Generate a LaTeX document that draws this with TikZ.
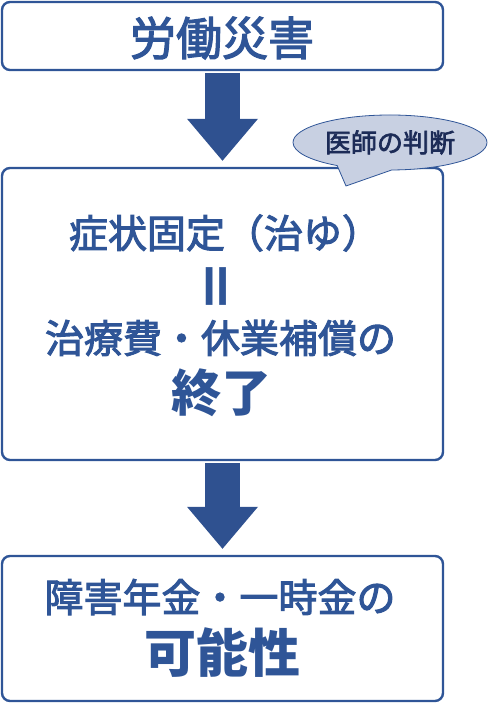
\documentclass[tikz,border=0pt]{standalone}
\usepackage{fontspec}
\setmainfont{Noto Sans CJK JP}
\newfontfamily\jpmid{Noto Sans CJK JP}[FakeBold=2.6]
\usetikzlibrary{arrows.meta,shapes.callouts}
\definecolor{rosaiblue}{HTML}{2F5597}
\definecolor{rosaiarrow}{HTML}{2F5190}
\definecolor{bubblefill}{HTML}{C8D0E2}
\definecolor{bubbletext}{HTML}{1C2B57}
\tikzset{
  stagebox/.style={draw=rosaiblue, line width=2.4pt, rounded corners=8pt, fill=white, minimum width=441pt, inner sep=0pt},
  bigarrow/.style={draw=rosaiarrow, line width=35pt, -{Triangle[width=71pt,length=42pt,line width=0pt]}, shorten <=2pt, shorten >=6pt},
  boxtext/.style={text=rosaiblue, inner sep=0pt},
}
\newcommand{\jpsize}[1]{\fontsize{#1}{#1}\selectfont}
\begin{document}
\begin{tikzpicture}[x=1pt,y=1pt]
      \useasboundingbox (0,0) rectangle (489,703);
      \node[name=injury, stagebox, minimum height=68pt] at (222.5,667) {};
      \node[name=fixed, stagebox, minimum height=292pt] at (222.5,389) {};
      \node[name=pension, stagebox, minimum height=145pt] at (222.5,74.5) {};
      \draw[bigarrow] (injury.south) -- (fixed.north);
      \draw[bigarrow] (fixed.south) -- (pension.north);
      \coordinate (tip) at (346,517);
      \node[name=judge, ellipse callout, draw=rosaiblue, line width=0.8pt, fill=bubblefill, minimum width=194pt, minimum height=55pt, inner sep=0pt, callout absolute pointer=(tip), callout pointer arc=34, text=bubbletext, font=\jpmid\jpsize{26}] at (390,560.5) {医師の判断};
      \node[name=title, boxtext, font=\jpmid\jpsize{46}] at (222,665) {労働災害};
      \node[name=cure, boxtext, font=\jpmid\jpsize{39}] at (225,470) {症状固定（治ゆ）};
      \node[name=equal, boxtext, font=\jpsize{40}\bfseries, rotate=90, yscale=1.4, xscale=1.35] at (222.5,416) {＝};
      \node[name=stop, boxtext, font=\jpmid\jpsize{39}] at (220.5,365) {治療費・休業補償の};
      \node[name=finish, boxtext, font=\jpsize{50}\bfseries] at (221,310) {終了};
      \node[name=grant, boxtext, font=\jpmid\jpsize{39}] at (220,106) {障害年金・一時金の};
      \node[name=chance, boxtext, font=\jpsize{52}\bfseries] at (222,50) {可能性};
    \end{tikzpicture}
\end{document}
